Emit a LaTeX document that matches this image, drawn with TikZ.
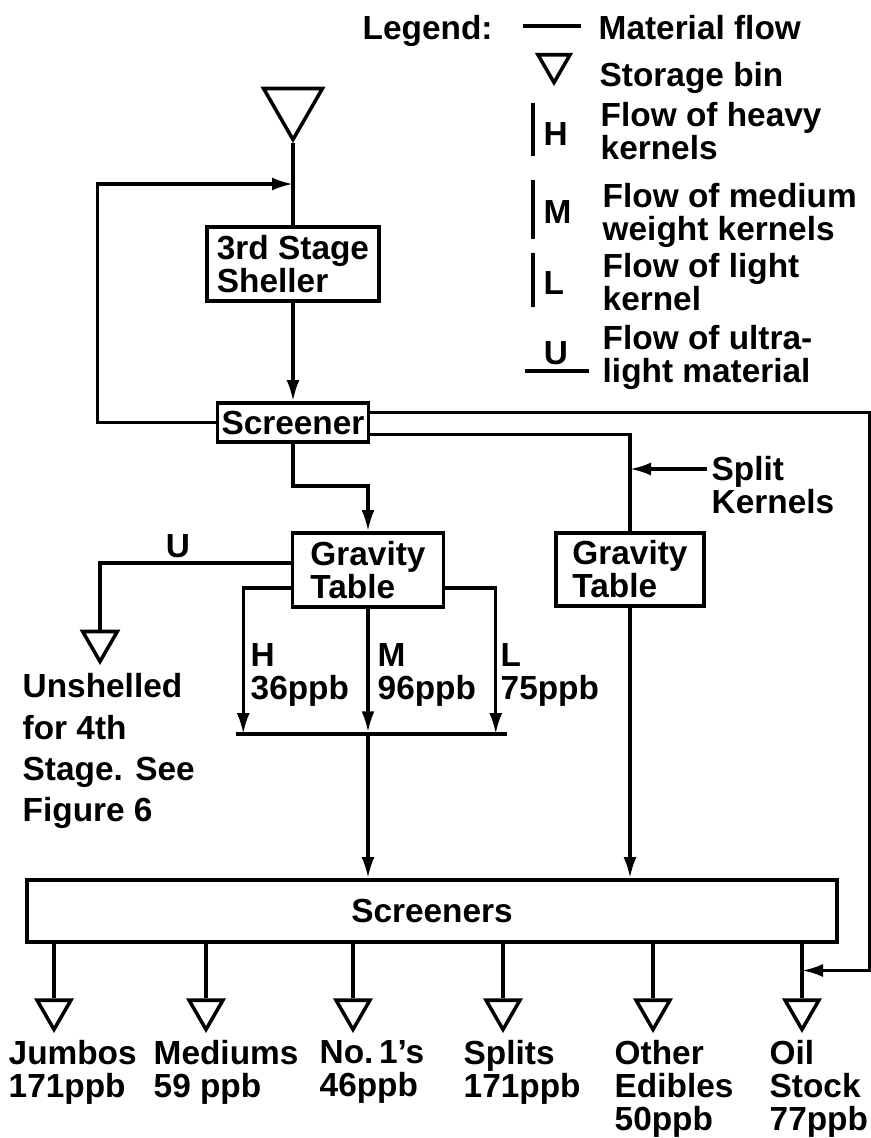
\documentclass[tikz,border=0pt]{standalone}
\usepackage{fontspec}
\setmainfont{Liberation Sans}
\usepackage{xcolor}
\definecolor{cInk}{HTML}{000000}
\usepackage{tikz}
\usetikzlibrary{positioning,arrows.meta,shapes.geometric,calc}
\newcommand{\flowfont}{\fontsize{9.5}{9.4}\selectfont\bfseries}
\newcommand{\notefont}{\fontsize{9.5}{11.7}\selectfont\bfseries}
\tikzset{
  node-box/.style={draw=cInk,line width=1.1pt,align=left,inner sep=0pt,
    font=\flowfont},
  node-bin/.style={draw=cInk,line width=1pt,regular polygon,
    regular polygon sides=3,shape border rotate=180,inner sep=0pt,
    minimum size=3.9mm},
  node-bin-big/.style={node-bin,minimum size=6.8mm},
  node-label/.style={align=left,inner sep=0pt,font=\flowfont},
  flow/.style={line width=0.9pt,draw=cInk},
  arrow/.style={flow,-{Latex[length=2.1mm,width=1.3mm]}},
}

\begin{document}
\begin{tikzpicture}[x=0.1mm,y=-0.1mm]
  \useasboundingbox (0,0) rectangle (871,1138);

  % legend
  \node[node-label,anchor=north west] (leg-title) at (362,15) {Legend:};
  \draw[flow] (523,26) -- (581,26);
  \node[node-label,anchor=north west] (leg-flow) at (598,15) {Material flow};
  \node[node-bin,minimum size=3.7mm,anchor=corner 1] (leg-bin) at (554,86) {};
  \node[node-label,anchor=north west] (leg-bin-txt) at (599,62) {Storage bin};
  \draw[flow] (533,103) -- (533,156);
  \node[node-label,anchor=north west] at (543,122) {H};
  \node[node-label,anchor=north west] (leg-h) at (600,102) {Flow of heavy\\kernels};
  \draw[flow] (533,180) -- (533,239);
  \node[node-label,anchor=north west] at (543,200) {M};
  \node[node-label,anchor=north west] (leg-m) at (602,183) {Flow of medium\\weight kernels};
  \draw[flow] (533,253) -- (533,307);
  \node[node-label,anchor=north west] at (543,271) {L};
  \node[node-label,anchor=north west] (leg-l) at (602,253) {Flow of light\\kernel};
  \draw[flow] (525,371) -- (589,371);
  \node[node-label] at (556,353) {U};
  \node[node-label,anchor=north west] (leg-u) at (602,325) {Flow of ultra-\\light material};

  % 3rd stage
  \node[node-bin-big,anchor=corner 1] (bin-feed) at (293,143) {};
  \node[node-box,minimum width=17.2mm,minimum height=7.4mm]
    (sheller) at (293,264) {3rd Stage\\Sheller};
  \node[node-box,minimum width=15.1mm,minimum height=3.9mm]
    (screener) at (293,422.5) {Screener};
  \coordinate (feed-join) at (293,184);
  \draw[flow] (bin-feed.corner 1) -- (sheller.north);
  \draw[arrow] (screener.west) -- ++(-118,0) |- (feed-join);
  \draw[arrow] (sheller.south) -- (screener.north);

  % gravity tables
  \node[node-box,minimum width=15.1mm,minimum height=7.4mm]
    (gt1) at (368,570) {Gravity\\Table};
  \node[node-box,minimum width=14.8mm,minimum height=7.3mm]
    (gt2) at (630,569.5) {Gravity\\Table};
  \draw[arrow] (screener.south) -- ++(0,42) -| (gt1.north);
  \draw[flow] ([yshift=-1.2mm]screener.east) -| (gt2.north);
  \node[node-label,anchor=north west] (split) at (711,456) {Split\\Kernels};
  \coordinate (split-in) at ($(split.north west)+(-4,13)$);
  \draw[arrow] (split-in) -- (split-in -| gt2.north);

  % outputs of first table
  \node[node-bin,minimum size=4mm,anchor=corner 1] (bin-u) at (100,665) {};
  \draw[flow] ([yshift=0.7mm]gt1.west) -| (bin-u.north);
  \node[node-label] (u-txt) at (178,546) {U};
  \node[align=left,inner sep=0pt,font=\notefont,anchor=north west]
    (unshelled) at (22,673) {Unshelled\\for 4th\\Stage. See\\Figure 6};
  \node[draw=cInk,line width=1pt,minimum width=27.1mm,minimum height=0pt,
    inner sep=0pt] (bar) at (371.5,734) {};
  \draw[arrow] ([yshift=-1.8mm]gt1.west) -| ([xshift=0.9mm]bar.west);
  \draw[arrow] ([yshift=-1.8mm]gt1.east) -| ([xshift=-1.3mm]bar.east);
  \draw[arrow] (gt1.south) -- (gt1.south |- bar.north);
  \node[node-label,anchor=north west] (h-txt) at (250,643) {H\\36ppb};
  \node[node-label,anchor=north west] (m-txt) at (377,643) {M\\96ppb};
  \node[node-label,anchor=north west] (l-txt) at (500,643) {L\\75ppb};

  % screeners and bins
  \node[node-box,minimum width=81mm,minimum height=6.2mm]
    (screeners) at (432,911) {Screeners};
  \draw[arrow] (gt1.south |- bar.south) -- (gt1.south |- screeners.north);
  \draw[arrow] (gt2.south) -- (gt2.south |- screeners.north);

  \node[node-bin,anchor=corner 1] (bin-jumbos) at (54,1033) {};
  \node[node-bin,anchor=corner 1] (bin-mediums) at (206,1033) {};
  \node[node-bin,anchor=corner 1] (bin-no1) at (353,1033) {};
  \node[node-bin,anchor=corner 1] (bin-splits) at (503,1033) {};
  \node[node-bin,anchor=corner 1] (bin-other) at (653,1033) {};
  \node[node-bin,anchor=corner 1] (bin-oil) at (802,1033) {};
  \draw[flow] (screeners.south -| bin-jumbos.north) -- (bin-jumbos.north);
  \draw[flow] (screeners.south -| bin-mediums.north) -- (bin-mediums.north);
  \draw[flow] (screeners.south -| bin-no1.north) -- (bin-no1.north);
  \draw[flow] (screeners.south -| bin-splits.north) -- (bin-splits.north);
  \draw[flow] (screeners.south -| bin-other.north) -- (bin-other.north);
  \draw[flow] (screeners.south -| bin-oil.north) -- (bin-oil.north);
  \coordinate (oil-join) at ($(bin-oil.north)+(0,-28)$);
  \draw[arrow] ([yshift=1mm]screener.east) -- ++(499,0) |- (oil-join);

  \node[node-label,anchor=north west] (lbl-jumbos) at (8,1040) {Jumbos\\171ppb};
  \node[node-label,anchor=north west] (lbl-mediums) at (153,1040) {Mediums\\59 ppb};
  \node[node-label,anchor=north west] (lbl-no1) at (319,1040) {No.\,1's\\46ppb};
  \node[node-label,anchor=north west] (lbl-splits) at (463,1040) {Splits\\171ppb};
  \node[node-label,anchor=north west] (lbl-other) at (614,1040) {Other\\Edibles\\50ppb};
  \node[node-label,anchor=north west] (lbl-oil) at (769,1040) {Oil\\Stock\\77ppb};
\end{tikzpicture}
\end{document}
